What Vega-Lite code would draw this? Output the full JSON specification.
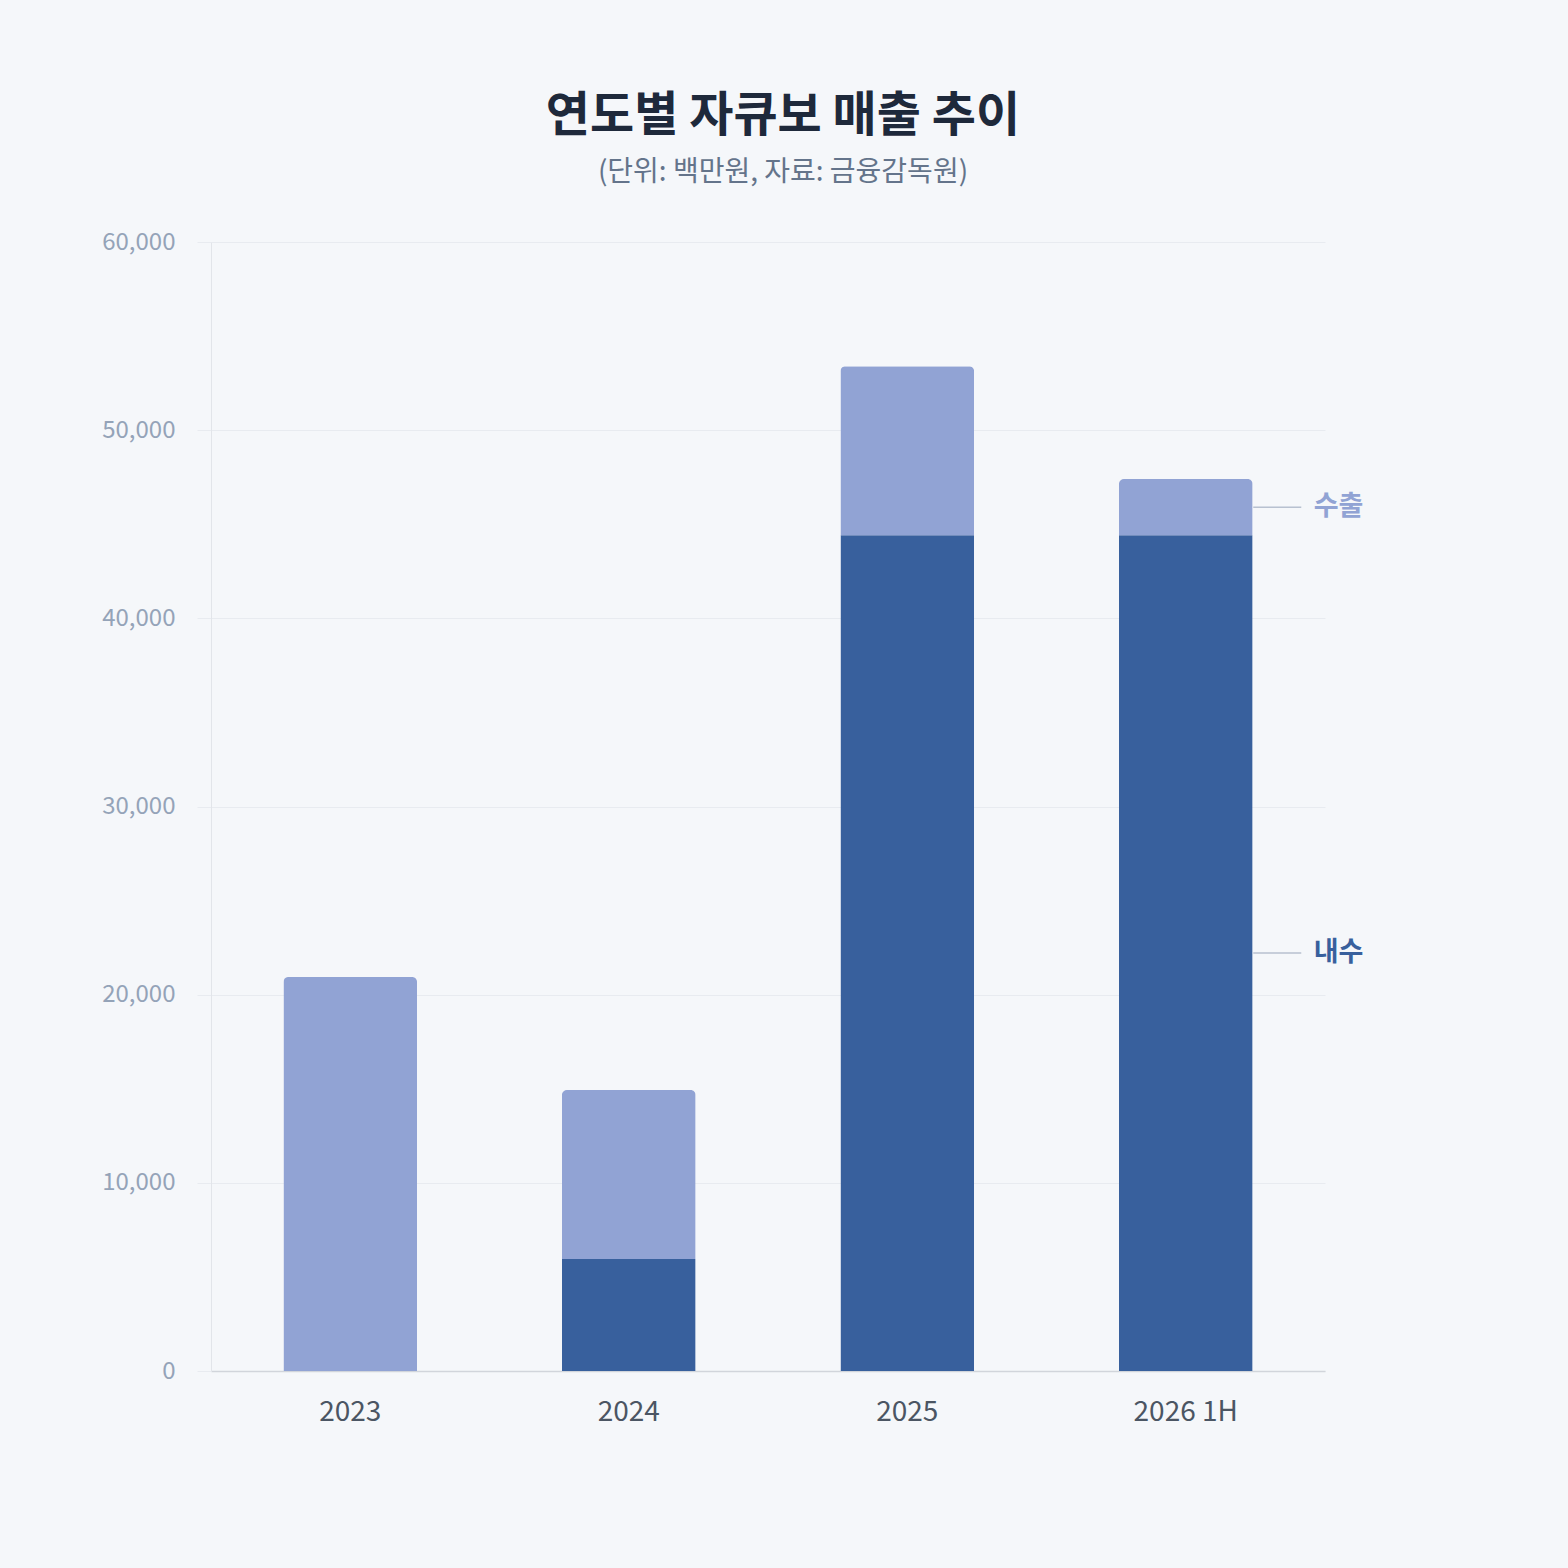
{
  "$schema": "https://vega.github.io/schema/vega-lite/v6.json",
  "autosize": {"type": "none"},
  "width": 1114,
  "height": 1129,
  "padding": {"left": 211, "top": 242, "right": 243, "bottom": 197},
  "background": "#F5F7FA",
  "title": {
    "text": "연도별 자큐보 매출 추이",
    "subtitle": "(단위: 백만원, 자료: 금융감독원)",
    "font": "Noto Sans CJK KR",
    "subtitleFont": "Noto Sans CJK KR",
    "fontSize": 48,
    "fontWeight": "bold",
    "color": "#1E293B",
    "subtitleFontSize": 28,
    "subtitleColor": "#64748B",
    "subtitlePadding": 18,
    "anchor": "middle",
    "dx": 15,
    "offset": 43
  },
  "data": {
    "values": [
      {"year": "2023", "type": "수출", "value": 20940},
      {"year": "2024", "type": "내수", "value": 5950},
      {"year": "2024", "type": "수출", "value": 8980},
      {"year": "2025", "type": "내수", "value": 44420},
      {"year": "2025", "type": "수출", "value": 8980},
      {"year": "2026 1H", "type": "내수", "value": 44420},
      {"year": "2026 1H", "type": "수출", "value": 2980}
    ]
  },
  "encoding": {
    "x": {
      "field": "year",
      "type": "nominal",
      "sort": null,
      "scale": {"paddingInner": 0.52, "paddingOuter": 0.26},
      "axis": {
        "title": null,
        "labelAngle": 0,
        "labelFontSize": 28,
        "labelColor": "#4B5563",
        "labelPadding": 27,
        "ticks": false,
        "domainColor": "#D1D5DB",
        "domainWidth": 1.5
      }
    }
  },
  "layer": [
    {
      "mark": {"type": "bar", "cornerRadiusEnd": 5},
      "encoding": {
        "y": {
          "field": "value",
          "type": "quantitative",
          "stack": "zero",
          "scale": {"domain": [0, 60000], "nice": false},
          "axis": {
            "title": null,
            "values": [0, 10000, 20000, 30000, 40000, 50000, 60000],
            "format": ",.0f",
            "labelFontSize": 24,
            "labelColor": "#94A3B8",
            "labelPadding": 22,
            "tickSize": 14,
            "tickColor": "#E8EBF0",
            "gridColor": "#E8EBF0",
            "domainColor": "#E2E5EA"
          }
        },
        "color": {
          "field": "type",
          "type": "nominal",
          "scale": {"domain": ["내수", "수출"], "range": ["#38609D", "#91A3D4"]},
          "legend": null
        },
        "order": {"field": "type", "sort": "ascending"}
      }
    },
    {
      "transform": [
        {"filter": "datum.year === '2026 1H'"},
        {"stack": "value", "groupby": ["year"], "sort": [{"field": "type"}], "as": ["v0", "v1"]},
        {"calculate": "(datum.v0 + datum.v1) / 2", "as": "mid"}
      ],
      "layer": [
        {
          "mark": {"type": "tick", "orient": "horizontal", "size": 48, "thickness": 1.5, "xOffset": 91.5, "color": "#9EAABD"},
          "encoding": {"y": {"field": "mid", "type": "quantitative"}}
        },
        {
          "mark": {"type": "text", "align": "left", "baseline": "middle", "dx": 128, "fontSize": 27, "fontWeight": "bold", "font": "Noto Sans CJK KR"},
          "encoding": {
            "y": {"field": "mid", "type": "quantitative"},
            "text": {"field": "type"},
            "color": {"field": "type", "type": "nominal", "legend": null}
          }
        }
      ]
    }
  ],
  "config": {
    "font": "Noto Sans CJK KR",
    "view": {"stroke": null},
    "axis": {"labelFont": "Noto Sans CJK KR"}
  }
}
